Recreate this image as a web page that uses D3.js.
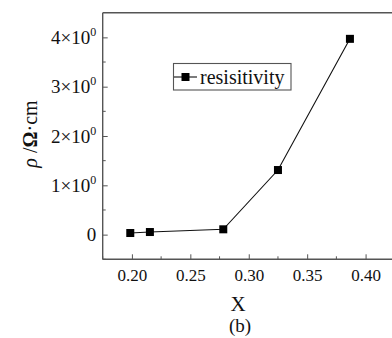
<!DOCTYPE html>
<html><head><meta charset="utf-8">
<script src="https://cdn.jsdelivr.net/npm/d3@7"></script>
<style>body{margin:0;background:#fff}svg{display:block}</style>
</head><body>
<script>
const xValues = [0.1986, 0.2154, 0.2782, 0.325, 0.3866];
const rhoValues = [0.033, 0.053, 0.108, 1.31, 3.97];
const xTicks = [0.20, 0.25, 0.30, 0.35, 0.40];
const xTickLabels = ["0.20", "0.25", "0.30", "0.35", "0.40"];
const yTicks = [0, 1, 2, 3, 4];
const yTickMantissa = ["0", "1", "2", "3", "4"];
const seriesName = "resisitivity";

const W = 392, H = 338;
const plotLeft = 102.7, plotTop = 12.7, plotBottom = 259.3;
const serif = "'Liberation Serif','Times New Roman',serif";
const svg = d3.select("body").append("svg").attr("width", W).attr("height", H)
  .style("font-family", serif);

const x = d3.scaleLinear().domain([0.175, 0.425])
  .range([plotLeft, plotLeft + (0.425 - 0.175) / 0.05 * 58.42]);
const y = d3.scaleLinear().domain([-0.5, 4.5]).range([plotBottom, plotTop]);

const axisColor = "#555";

// frame: left, bottom, top
svg.append("line").attr("x1", plotLeft).attr("x2", plotLeft).attr("y1", plotTop).attr("y2", plotBottom)
  .attr("stroke", axisColor).attr("stroke-width", 1.4);
svg.append("line").attr("x1", plotLeft).attr("x2", W + 5).attr("y1", plotBottom).attr("y2", plotBottom)
  .attr("stroke", axisColor).attr("stroke-width", 1.4);
svg.append("line").attr("x1", plotLeft).attr("x2", W + 5).attr("y1", plotTop).attr("y2", plotTop)
  .attr("stroke", axisColor).attr("stroke-width", 1.4);

// x axis ticks (inward)
const xAxis = d3.axisBottom(x).tickValues(xTicks).tickSize(-5).tickSizeOuter(0)
  .tickFormat((d, i) => xTickLabels[i]).tickPadding(10);
const gx = svg.append("g").attr("transform", `translate(0,${plotBottom})`).call(xAxis)
  .attr("font-family", serif);
gx.select(".domain").remove();
gx.selectAll(".tick line").attr("stroke", axisColor).attr("stroke-width", 1);
gx.selectAll(".tick text").attr("font-size", 17).attr("fill", "#111");
const xMinor = [0.175, 0.225, 0.275, 0.325, 0.375, 0.425];
svg.append("g").selectAll("line").data(xMinor).join("line")
  .attr("x1", d => x(d)).attr("x2", d => x(d)).attr("y1", plotBottom).attr("y2", plotBottom - 3)
  .attr("stroke", axisColor);

// y axis ticks (inward)
const yAxis = d3.axisLeft(y).tickValues(yTicks).tickSize(-5).tickSizeOuter(0)
  .tickFormat("").tickPadding(8);
const gy = svg.append("g").attr("transform", `translate(${plotLeft},0)`).call(yAxis);
gy.select(".domain").remove();
gy.selectAll(".tick line").attr("stroke", axisColor).attr("stroke-width", 1);
const yMinor = [-0.5, 0.5, 1.5, 2.5, 3.5];
svg.append("g").selectAll("line").data(yMinor).join("line")
  .attr("x1", plotLeft).attr("x2", plotLeft + 3).attr("y1", d => y(d)).attr("y2", d => y(d))
  .attr("stroke", axisColor);
const ylab = svg.append("g").selectAll("text").data(yTicks).join("text")
  .attr("x", plotLeft - 6.5).attr("y", d => y(d) + 6.5).attr("text-anchor", "end")
  .attr("font-size", 19).attr("fill", "#111");
ylab.each(function (d, i) {
  const t = d3.select(this);
  if (d === 0) { t.text(yTickMantissa[i]); return; }
  t.append("tspan").text(yTickMantissa[i] + "\u00d710");
  t.append("tspan").attr("dy", -8).attr("font-size", 12).text("0");
});

// data line & markers
const line = d3.line().x((d, i) => x(xValues[i])).y(d => y(d));
svg.append("path").datum(rhoValues).attr("d", line).attr("fill", "none")
  .attr("stroke", "#111").attr("stroke-width", 1.1);
svg.append("g").selectAll("rect").data(rhoValues).join("rect")
  .attr("x", (d, i) => x(xValues[i]) - 4).attr("y", d => y(d) - 4)
  .attr("width", 8).attr("height", 8).attr("fill", "#000");

// legend
const lg = svg.append("g");
lg.append("rect").attr("x", 173.5).attr("y", 63.5).attr("width", 117.5).attr("height", 26.5)
  .attr("fill", "#fff").attr("stroke", "#555").attr("stroke-width", 1.1);
lg.append("line").attr("x1", 174).attr("x2", 197).attr("y1", 77).attr("y2", 77)
  .attr("stroke", "#111").attr("stroke-width", 1.1);
lg.append("rect").attr("x", 181.5).attr("y", 73).attr("width", 8).attr("height", 8).attr("fill", "#000");
lg.append("text").attr("x", 200).attr("y", 83.5).attr("font-size", 20).attr("fill", "#111").text(seriesName);

// axis titles
svg.append("text").attr("x", 238).attr("y", 311).attr("text-anchor", "middle")
  .attr("font-size", 21).attr("fill", "#111").text("X");
svg.append("text").attr("x", 240).attr("y", 332).attr("text-anchor", "middle")
  .attr("font-size", 19).attr("fill", "#111").text("(b)");
const yt = svg.append("text").attr("transform", "translate(37,134) rotate(-90)")
  .attr("text-anchor", "middle").attr("font-size", 20).attr("fill", "#111");
yt.append("tspan").attr("font-style", "italic").text("\u03c1");
yt.append("tspan").text(" /");
yt.append("tspan").attr("font-weight", "bold").text("\u03a9");
yt.append("tspan").text("\u00b7cm");
</script>
</body></html>
